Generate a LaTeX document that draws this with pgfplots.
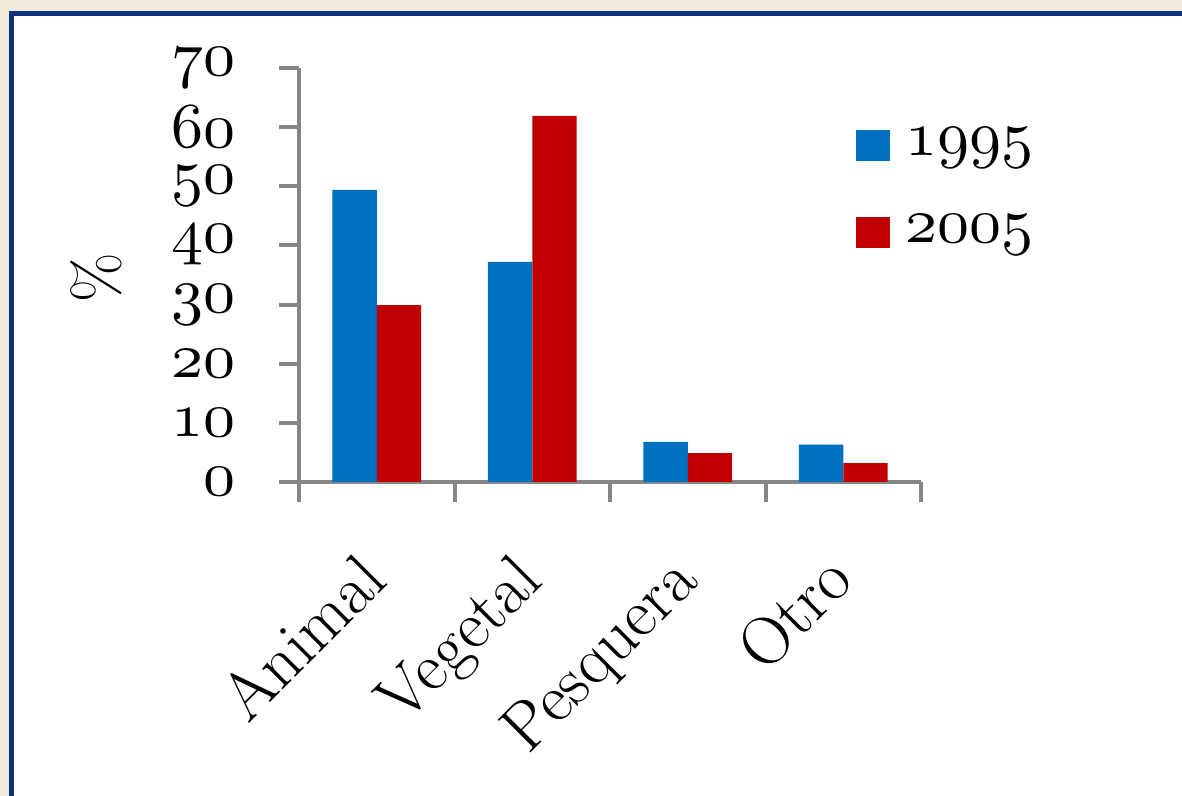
\documentclass[border=0pt]{standalone}
\usepackage{pgfplots}
\pgfplotsset{compat=1.18}

% let the math italic font (old-style figures) scale to any size
\DeclareFontShape{OML}{cmm}{m}{it}{<-> cmmi10}{}

\definecolor{bg}{RGB}{240,234,220}
\definecolor{framecol}{RGB}{12,50,122}
\definecolor{axgray}{RGB}{134,134,134}
\definecolor{c1995}{RGB}{0,112,192}
\definecolor{c2005}{RGB}{192,0,0}

% old-style figures: digits of the OML math italic font
\newcommand\osn[1]{{\usefont{OML}{cmm}{m}{it}#1}}
\newcommand\numfont{\fontsize{32}{38}\selectfont}
\newcommand\catfont{\fontsize{34}{40}\selectfont}

\begin{document}
\begin{tikzpicture}
  % page: 1182x796 px at 0.5pt per px
  \useasboundingbox (0,0) rectangle (591pt,398pt);
  \fill[bg] (0,0) rectangle (591pt,398pt);
  \fill[white] (5.75pt,-10pt) rectangle (600pt,391.25pt);
  \draw[framecol, line width=2.5pt] (5.75pt,-10pt) |- (600pt,391.25pt);

  \begin{axis}[
    at={(149.5pt,157pt)}, anchor=south west,
    scale only axis, width=311pt, height=207pt,
    ybar=0pt, bar width=0.286,
    xmin=-0.5, xmax=3.5, ymin=0, ymax=70,
    axis lines=left,
    axis line style={draw=axgray, line width=2pt, -},
    tick style={draw=axgray, line width=2pt},
    tick align=outside,
    major tick length=10pt,
    xtick={-0.5,0.5,1.5,2.5,3.5}, xticklabels={},
    extra x ticks={0,1,2,3},
    extra x tick labels={Animal,Vegetal,Pesquera,Otro},
    extra x tick style={major tick length=0pt,
      xticklabel style={xshift=6.5pt, yshift=-50.5pt, rotate=45,
        anchor=base east, inner sep=0pt, font=\catfont}},
    ytick={0,10,...,70},
    yticklabels={\osn{0},\osn{10},\osn{20},\osn{30},\osn{40},\osn{50},\osn{60},\osn{70}},
    yticklabel style={font=\numfont, anchor=east, xshift=-18pt},
    ylabel={\%},
    ylabel style={at={(axis description cs:-0.326,0.493)}, anchor=center, font=\numfont},
    legend style={at={(axis description cs:0.885,0.875)}, anchor=north west,
      draw=none, fill=none, font=\numfont, row sep=24pt,
      nodes={inner xsep=8pt}},
    legend cell align=left,
  ]
    \addplot[fill=c1995, draw=none,
      legend image code/.code={\fill[c1995] (0pt,-9pt) rectangle (17pt,6.5pt);}]
      coordinates {(0,49.4) (1,37.2) (2,6.8) (3,6.3)};
    \addlegendentry{\osn{1995}}
    \addplot[fill=c2005, draw=none,
      legend image code/.code={\fill[c2005] (0pt,-9pt) rectangle (17pt,6.5pt);}]
      coordinates {(0,29.9) (1,61.9) (2,4.9) (3,3.2)};
    \addlegendentry{\osn{2005}}
  \end{axis}
\end{tikzpicture}
\end{document}
